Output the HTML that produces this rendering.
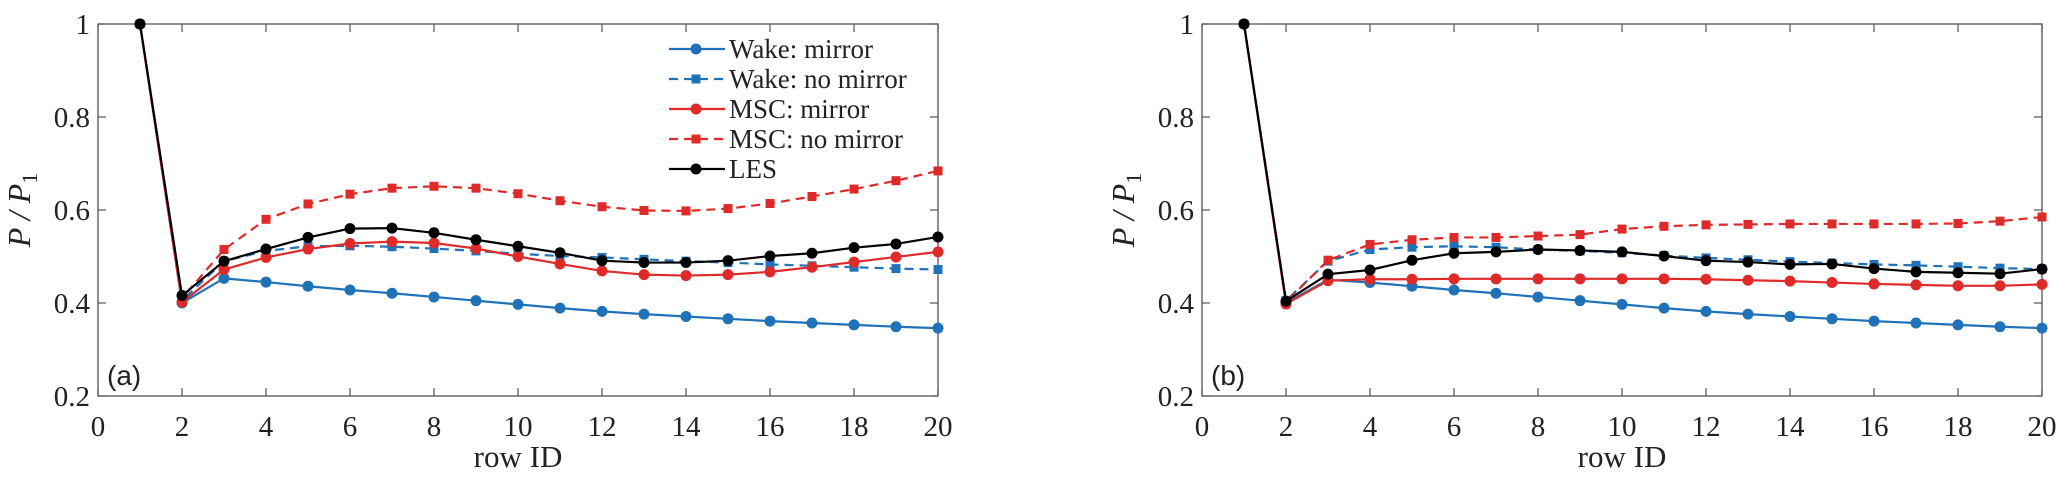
<!DOCTYPE html>
<html><head><meta charset="utf-8"><style>
html,body{margin:0;padding:0;background:#fff;}
svg{display:block;}
text{font-family:"Liberation Serif",serif;fill:#222;}
</style></head><body>
<svg id="fig" width="2067" height="483" viewBox="0 0 2067 483" xmlns="http://www.w3.org/2000/svg"></svg>
<script>
const rows = [1,2,3,4,5,6,7,8,9,10,11,12,13,14,15,16,17,18,19,20];
const xTicks = [0,2,4,6,8,10,12,14,16,18,20];
const yTicks = [0.2,0.4,0.6,0.8,1];
const yTickLabels = ["0.2","0.4","0.6","0.8","1"];
const seriesNames = ["Wake: mirror","Wake: no mirror","MSC: mirror","MSC: no mirror","LES"];
const aWakeMirror = [1,0.400,0.453,0.445,0.436,0.428,0.421,0.413,0.405,0.397,0.389,0.382,0.376,0.371,0.366,0.361,0.357,0.353,0.349,0.346];
const aWakeNoMirror = [1,0.405,0.490,0.512,0.522,0.523,0.521,0.517,0.512,0.506,0.501,0.498,0.494,0.490,0.487,0.483,0.480,0.477,0.474,0.472];
const aMscMirror = [1,0.402,0.472,0.498,0.516,0.528,0.532,0.529,0.517,0.500,0.484,0.469,0.461,0.459,0.461,0.467,0.477,0.488,0.499,0.510];
const aMscNoMirror = [1,0.410,0.515,0.580,0.613,0.634,0.647,0.651,0.647,0.635,0.620,0.607,0.599,0.598,0.603,0.614,0.629,0.645,0.663,0.684];
const aLes = [1,0.416,0.490,0.516,0.541,0.560,0.561,0.551,0.536,0.522,0.508,0.491,0.487,0.487,0.491,0.501,0.507,0.519,0.527,0.542];
const bWakeMirror = [1,0.400,0.450,0.444,0.436,0.428,0.421,0.413,0.405,0.397,0.389,0.382,0.376,0.371,0.366,0.361,0.357,0.353,0.349,0.346];
const bWakeNoMirror = [1,0.405,0.490,0.515,0.520,0.522,0.520,0.515,0.512,0.508,0.502,0.497,0.493,0.489,0.486,0.483,0.481,0.478,0.475,0.473];
const bMscMirror = [1,0.398,0.448,0.451,0.451,0.452,0.452,0.452,0.452,0.452,0.452,0.451,0.449,0.447,0.444,0.441,0.439,0.437,0.437,0.440];
const bMscNoMirror = [1,0.402,0.492,0.526,0.536,0.541,0.541,0.544,0.547,0.559,0.565,0.568,0.569,0.570,0.570,0.570,0.570,0.571,0.576,0.585];
const bLes = [1,0.404,0.462,0.471,0.492,0.507,0.510,0.515,0.513,0.510,0.501,0.491,0.488,0.483,0.484,0.474,0.467,0.465,0.463,0.473];

const NS="http://www.w3.org/2000/svg";
const svg=document.getElementById('fig');
function mk(tag,attrs,parent){const e=document.createElementNS(NS,tag);for(const k in attrs)e.setAttribute(k,attrs[k]);(parent||svg).appendChild(e);return e;}
const BLUE="#1f72b8", RED="#df2a2a", BLACK="#000";
const styles=[{c:BLUE,dash:null,m:'circle'},{c:BLUE,dash:'9,6',m:'square'},{c:RED,dash:null,m:'circle'},{c:RED,dash:'9,6',m:'square'},{c:BLACK,dash:null,m:'circle'}];

function panel(x0,label,series,showLegend,pname){
  const x1=x0+840, yTop=24, yBot=396;
  const sx=v=>x0+(v-0)/20*(x1-x0);
  const sy=v=>yBot-(v-0.2)/0.8*(yBot-yTop);
  const g=mk('g',{});
  
  
  const box=mk('rect',{x:x0,y:yTop,width:x1-x0,height:yBot-yTop,fill:'none',stroke:'#555','stroke-width':1.3},g);
  
  
  xTicks.forEach(t=>{
    const X=sx(t);
    mk('line',{x1:X,y1:yBot,x2:X,y2:yBot-8,stroke:'#555','stroke-width':1.2},g);
    mk('line',{x1:X,y1:yTop,x2:X,y2:yTop+8,stroke:'#555','stroke-width':1.2},g);
    const tx=mk('text',{x:X,y:yBot+40,'text-anchor':'middle','font-size':29},g);
    tx.textContent=t;
    
    
  });
  yTicks.forEach((t,i)=>{
    const Y=sy(t);
    mk('line',{x1:x0,y1:Y,x2:x0+8,y2:Y,stroke:'#555','stroke-width':1.2},g);
    mk('line',{x1:x1,y1:Y,x2:x1-8,y2:Y,stroke:'#555','stroke-width':1.2},g);
    const ty=mk('text',{x:x0-8,y:Y+10,'text-anchor':'end','font-size':29},g);
    ty.textContent=yTickLabels[i];
    
    
  });
  const xl=mk('text',{x:(x0+x1)/2,y:467,'text-anchor':'middle','font-size':31},g);
  xl.textContent='row ID';
  
  
  const yl=mk('text',{transform:`translate(${x0-68},210) rotate(-90)`,'text-anchor':'middle','font-size':32,'font-style':'italic'},g);
  yl.innerHTML='P / P<tspan font-style="normal" font-size="22" dy="7">1</tspan>';
  
  
  const pl=mk('text',{x:x0+9,y:385,'font-size':28,style:'font-family:"Liberation Sans",sans-serif'},g);
  pl.textContent=label;
  
  
  function marker(st,X,Y,par,name){
    let m;
    if(st.m==='circle') m=mk('circle',{cx:X,cy:Y,r:5.5,fill:st.c},par);
    else m=mk('rect',{x:X-4.5,y:Y-4.5,width:9,height:9,fill:st.c},par);
    
    
  }
  series.forEach((vals,si)=>{
    const st=styles[si];
    const sg=mk('g',{},g);
    
    
    const pts=rows.map((r,i)=>sx(r)+','+sy(vals[i])).join(' ');
    const attrs={points:pts,fill:'none',stroke:st.c,'stroke-width':2.2};
    if(st.dash) attrs['stroke-dasharray']=st.dash;
    const pl2=mk('polyline',attrs,sg);
    
    
    rows.forEach((r,i)=>marker(st,sx(r),sy(vals[i]),sg,'data-point'));
  });
  if(showLegend){
    const lg=mk('g',{},g);
    
    
    seriesNames.forEach((n,i)=>{
      const st=styles[i];const Y=49+i*30;
      const eg=mk('g',{},lg);
      
      
      const a={x1:669,y1:Y,x2:725,y2:Y,stroke:st.c,'stroke-width':2.2};
      if(st.dash)a['stroke-dasharray']='9,6';
      mk('line',a,eg);
      marker(st,696,Y,eg,'legend-marker');
      const t=mk('text',{x:729,y:Y+9,'font-size':27},eg);
      t.textContent=n;
      
      
    });
  }
}
panel(98,'(a)',[aWakeMirror,aWakeNoMirror,aMscMirror,aMscNoMirror,aLes],true,'panel-a');
panel(1202,'(b)',[bWakeMirror,bWakeNoMirror,bMscMirror,bMscNoMirror,bLes],false,'panel-b');
</script>
</body></html>
